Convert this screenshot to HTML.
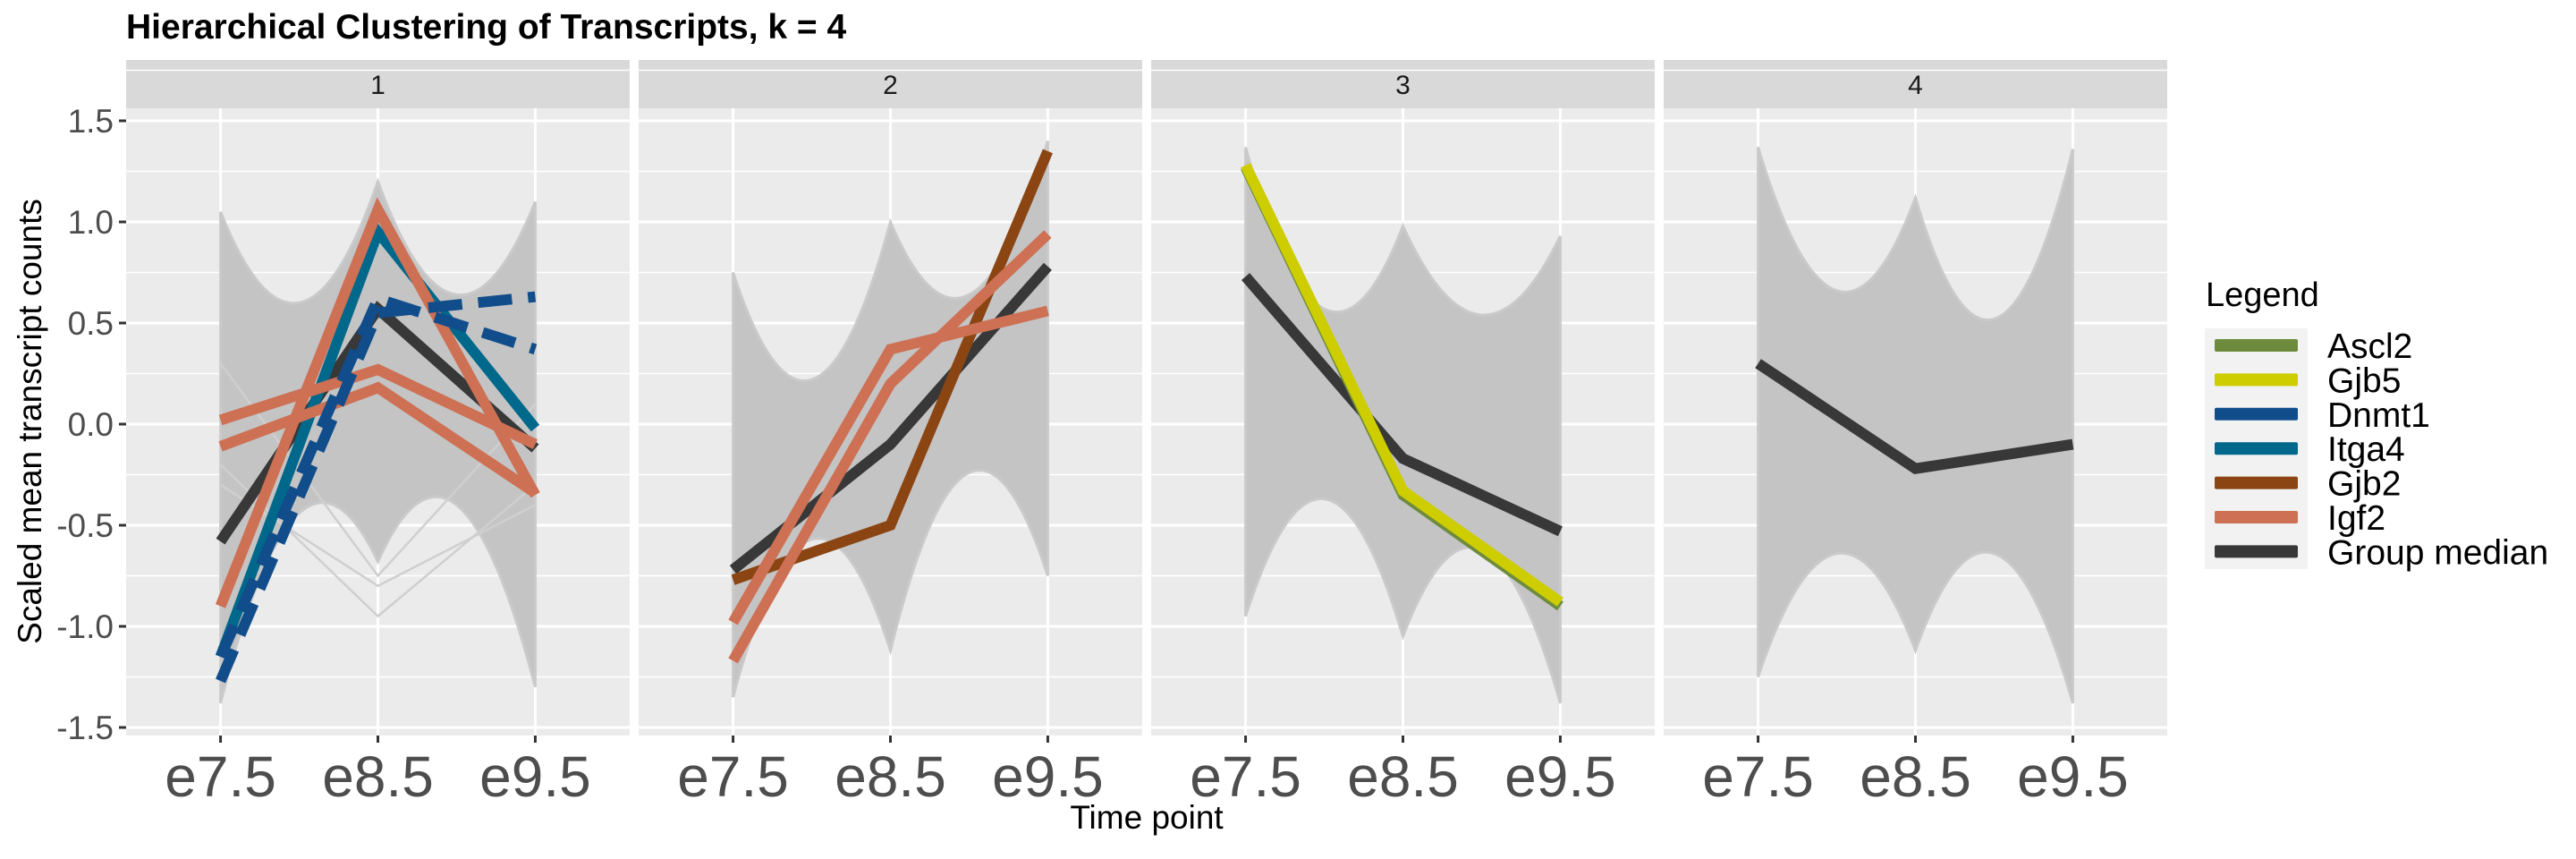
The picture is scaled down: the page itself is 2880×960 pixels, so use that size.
<!DOCTYPE html>
<html><head><meta charset="utf-8">
<style>
html,body{margin:0;padding:0;background:#fff;}
svg{display:block;font-family:"Liberation Sans",sans-serif;}
</style></head>
<body>
<svg id="chart" width="2880" height="960" viewBox="0 0 2880 960" xmlns="http://www.w3.org/2000/svg">
<text x="141" y="43" font-size="39" font-weight="bold" fill="#000">Hierarchical Clustering of Transcripts, k = 4</text>
<g id="panels"></g>
<text transform="translate(46,471) rotate(-90)" text-anchor="middle" font-size="37" fill="#000">Scaled mean transcript counts</text>
<text x="1282" y="926" text-anchor="middle" font-size="37" fill="#000">Time point</text>
<g id="legend"></g>
</svg>
<script>
const timepoints = ["e7.5","e8.5","e9.5"];
const yTicks = [1.5,1.0,0.5,0.0,-0.5,-1.0,-1.5];
const yTickLabels = ["1.5","1.0","0.5","0.0","-0.5","-1.0","-1.5"];
const clusters = ["1","2","3","4"];
// grey envelope: values at e7.5, midpoint, e8.5, midpoint, e9.5 (upper and lower)
const envUpper = [[1.05,0.6,1.2,0.64,1.1],[0.75,0.22,1.0,0.64,1.4],[1.37,0.57,0.98,0.54,0.93],[1.37,0.66,1.12,0.52,1.36]];
const envLower = [[-1.38,-0.44,-0.68,-0.4,-1.3],[-1.35,-0.57,-1.12,-0.24,-0.75],[-0.95,-0.37,-1.05,-0.62,-1.38],[-1.25,-0.64,-1.12,-0.64,-1.38]];
const outliers = [[[-0.2,-0.95,-0.3],[-0.3,-0.8,-0.4],[0.3,-0.75,0.1]],[],[],[]];
const medians = [[-0.58,0.57,-0.12],[-0.72,-0.1,0.78],[0.73,-0.17,-0.53],[0.3,-0.22,-0.1]];
const ascl2 = [[2,[1.27,-0.35,-0.9]]];
const gjb5 = [[2,[1.28,-0.33,-0.88]]];
const dnmt1 = [[0,[-1.27,0.55,0.63]],[0,[-1.15,0.62,0.37]]];
const itga4 = [[0,[-1.15,0.95,-0.02]]];
const gjb2 = [[1,[-0.77,-0.5,1.35]]];
const igf2 = [[0,[-0.9,1.06,-0.35]],[0,[0.02,0.27,-0.1]],[0,[-0.11,0.18,-0.34]],[1,[-0.98,0.37,0.56]],[1,[-1.17,0.2,0.94]]];
const legendLabels = ["Ascl2","Gjb5","Dnmt1","Itga4","Gjb2","Igf2","Group median"];
const legendColors = ["#6E8B3D","#CDCD00","#114D8B","#00688B","#8B4513","#CD7054","#383838"];

const NS="http://www.w3.org/2000/svg";
const P0=141, PW=563, PSTEP=573, STRIPTOP=67, PTOP=121, PBOT=822;
function yS(v){return 474 - v*226;}
function xS(p,t){const u=PW/3.2;return P0+p*PSTEP+u*(0.6+t);}
function mk(tag,attrs,parent){const e=document.createElementNS(NS,tag);for(const k in attrs)e.setAttribute(k,attrs[k]);parent.appendChild(e);return e;}
function qseg(p,t0,a,m,b){
  const c=2*m-(a+b)/2;
  return ' Q'+xS(p,t0+0.5)+','+yS(c)+' '+xS(p,t0+1)+','+yS(b);
}
const g=document.getElementById('panels');
clusters.forEach((c,p)=>{
  const left=P0+p*PSTEP;
  const pg=mk('g',{},g);
  
  
  const st=mk('rect',{x:left,y:STRIPTOP,width:PW,height:PTOP-STRIPTOP,fill:'#d9d9d9'},pg);
  
  
  const sl=mk('text',{x:left+PW/2,y:105,'text-anchor':'middle','font-size':30,fill:'#1a1a1a'},pg);
  sl.textContent=c;
  
  
  const bg=mk('rect',{x:left,y:PTOP,width:PW,height:PBOT-PTOP,fill:'#ebebeb'},pg);
  
  
  for(let v=-1.75;v<=1.76;v+=0.5){const l=mk('line',{x1:left,x2:left+PW,y1:yS(v),y2:yS(v),stroke:'#fff','stroke-width':1.5},pg);}
  yTicks.forEach(v=>{const l=mk('line',{x1:left,x2:left+PW,y1:yS(v),y2:yS(v),stroke:'#fff','stroke-width':3},pg);});
  timepoints.forEach((t,i)=>{
    const l=mk('line',{x1:xS(p,i),x2:xS(p,i),y1:PTOP,y2:PBOT,stroke:'#fff','stroke-width':3},pg);
    
    
    const tk=mk('line',{x1:xS(p,i),x2:xS(p,i),y1:PBOT,y2:PBOT+8,stroke:'#333','stroke-width':3},pg);
    
    
    const tl=mk('text',{x:xS(p,i),y:890,'text-anchor':'middle','font-size':64,fill:'#4d4d4d'},pg);
    tl.textContent=t;
    
    
  });
  const U=envUpper[p], L=envLower[p];
  let d='M'+xS(p,0)+','+yS(U[0])+qseg(p,0,U[0],U[1],U[2])+qseg(p,1,U[2],U[3],U[4]);
  d+=' L'+xS(p,2)+','+yS(L[4]);
  const c2=2*L[3]-(L[2]+L[4])/2, c1=2*L[1]-(L[0]+L[2])/2;
  d+=' Q'+xS(p,1.5)+','+yS(c2)+' '+xS(p,1)+','+yS(L[2]);
  d+=' Q'+xS(p,0.5)+','+yS(c1)+' '+xS(p,0)+','+yS(L[0])+' Z';
  const env=mk('path',{d:d,fill:'#c4c4c4',stroke:'#cacaca','stroke-width':3},pg);
  
  
  outliers[p].forEach(o=>{
    const l=mk('polyline',{points:o.map((v,i)=>xS(p,i)+','+yS(v)).join(' '),fill:'none',stroke:'#cfcfcf','stroke-width':2.5},pg);
    
    
  });
});
function drawSeries(list,color,name,dash){
  list.forEach(([p,vals])=>{
    const l=mk('polyline',{points:vals.map((v,i)=>xS(p,i)+','+yS(v)).join(' '),fill:'none',stroke:color,'stroke-width':12,'stroke-linejoin':'miter'},g);
    if(dash)l.setAttribute('stroke-dasharray',dash);
    
    
  });
}
drawSeries(medians.map((m,i)=>[i,m]),'#383838','group-median');
drawSeries(ascl2,'#6E8B3D','ascl2');
drawSeries(gjb5,'#CDCD00','gjb5');
drawSeries(itga4,'#00688B','itga4');
drawSeries(gjb2,'#8B4513','gjb2');
drawSeries(igf2,'#CD7054','igf2');
drawSeries(dnmt1,'#114D8B','dnmt1','38 18');
yTicks.forEach((v,i)=>{
  const tk=mk('line',{x1:133,x2:141,y1:yS(v),y2:yS(v),stroke:'#333','stroke-width':3},g);
  
  
  const tl=mk('text',{x:127,y:yS(v)+13,'text-anchor':'end','font-size':37,fill:'#4d4d4d'},g);
  tl.textContent=yTickLabels[i];
  
  
});
const lg=document.getElementById('legend');
const lt=mk('text',{x:2466,y:342,'font-size':38,fill:'#000'},lg);
lt.textContent='Legend';


const kb=mk('rect',{x:2465,y:367,width:115,height:269,fill:'#f2f2f2'},lg);


legendLabels.forEach((lab,i)=>{
  const cy=386+i*38.4;
  const r=mk('rect',{x:2476,y:cy-7,width:93,height:14,fill:legendColors[i],rx:2},lg);
  
  
  const t=mk('text',{x:2602,y:cy+14,'font-size':39,fill:'#000'},lg);
  t.textContent=lab;
  
  
});
</script>
</body></html>
